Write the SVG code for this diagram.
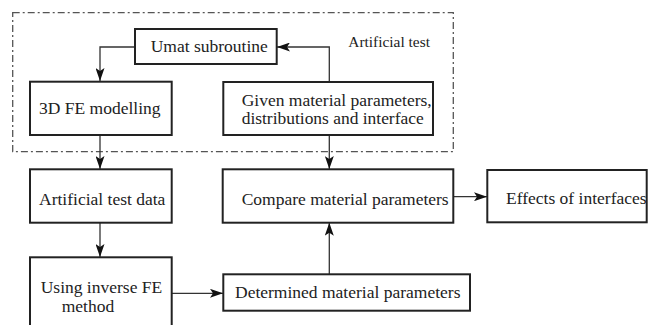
<svg xmlns="http://www.w3.org/2000/svg" width="657" height="325" viewBox="0 0 657 325">
<defs>
<marker id="arr" viewBox="0 0 13 9" refX="13" refY="4.5" markerWidth="13" markerHeight="9" markerUnits="userSpaceOnUse" orient="auto">
<path d="M0,0 L13,4.5 L0,9 L3,4.5 z" fill="#111"/>
</marker>
<style>
.box{fill:#fff;stroke:#222;stroke-width:2}
.t{font-family:"Liberation Serif","Times New Roman",serif;font-size:17.5px;fill:#222}
.t2{font-size:16px}
.c{fill:none;stroke:#333;stroke-width:1.3}
.frame{fill:none;stroke:#555;stroke-width:1.3;stroke-dasharray:7 3 2 3}
</style>
</defs>
<rect width="657" height="325" fill="#fff"/>
<rect class="frame" x="12.7" y="12.7" width="440.6" height="139"/>
<text x="348.3" y="46.7" class="t" style="font-size:15.4px">Artificial test</text>
<g id="connectors">
<path class="c" d="M135,47 H100 V81" marker-end="url(#arr)"/>
<path class="c" d="M329.3,82 V47 H277" marker-end="url(#arr)"/>
<path class="c" d="M100,135 V169" marker-end="url(#arr)"/>
<path class="c" d="M329.3,135 V169" marker-end="url(#arr)"/>
<path class="c" d="M453.3,196.7 H487" marker-end="url(#arr)"/>
<path class="c" d="M100,222.7 V257" marker-end="url(#arr)"/>
<path class="c" d="M171.7,293.3 H223" marker-end="url(#arr)"/>
<path class="c" d="M329.3,274.3 V222.7" marker-end="url(#arr)"/>
</g>
<g id="umat">
<rect class="box" x="135" y="29" width="141.7" height="35"/>
<text class="t" x="150.7" y="51.7">Umat subroutine</text>
</g>
<g id="fe3d">
<rect class="box" x="30" y="81.7" width="141.7" height="53.3"/>
<text class="t" x="39" y="114">3D FE modelling</text>
</g>
<g id="given">
<rect class="box" x="223.3" y="82" width="209.7" height="53"/>
<text class="t t2" x="241.7" y="106.3" textLength="190" lengthAdjust="spacingAndGlyphs">Given material parameters,</text>
<text class="t t2" x="241.7" y="124.3" textLength="182" lengthAdjust="spacingAndGlyphs">distributions and interface</text>
</g>
<g id="artdata">
<rect class="box" x="30" y="169.3" width="141.7" height="53.4"/>
<text class="t" x="39" y="205">Artificial test data</text>
</g>
<g id="compare">
<rect class="box" x="222.7" y="169.3" width="230.6" height="53.4"/>
<text class="t" x="241.7" y="205">Compare material parameters</text>
</g>
<g id="effects">
<rect class="box" x="487.3" y="170" width="159.4" height="52.3"/>
<text class="t" x="506" y="204.3">Effects of interfaces</text>
</g>
<g id="inverse">
<rect class="box" x="30" y="257.3" width="141.7" height="80"/>
<text class="t" x="40.7" y="292.7">Using inverse FE</text>
<text class="t" x="61.7" y="311.7">method</text>
</g>
<g id="determined">
<rect class="box" x="223.3" y="274.3" width="246.7" height="36.4"/>
<text class="t" x="235" y="298.3">Determined material parameters</text>
</g>
</svg>
